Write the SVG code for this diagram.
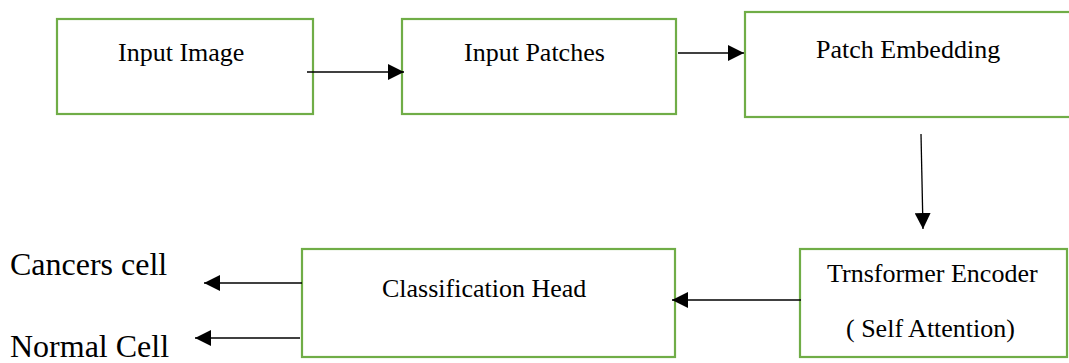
<svg xmlns="http://www.w3.org/2000/svg" width="1069" height="363" viewBox="0 0 1069 363">
  <style>
    .box { fill: #ffffff; stroke: #70AD47; stroke-width: 2.2; }
    .lbl { font-family: "Liberation Serif", "Times New Roman", serif; font-size: 26px; fill: #000000; }
    .out { font-family: "Liberation Serif", "Times New Roman", serif; font-size: 32px; fill: #000000; }
    .wire { stroke: #000000; stroke-width: 1.3; fill: none; marker-end: url(#head); }
  </style>
  <defs>
    <marker id="head" viewBox="0 0 16 16" refX="16" refY="8" markerWidth="16" markerHeight="16" markerUnits="userSpaceOnUse" orient="auto">
      <path d="M0,0 L16,8 L0,16 Z" fill="#000000"/>
    </marker>
  </defs>
  <rect width="1069" height="363" fill="#ffffff"/>

  <g id="input-image">
    <rect class="box" x="57" y="19" width="256" height="95"/>
    <text class="lbl" x="118" y="61">Input Image</text>
  </g>

  <g id="input-patches">
    <rect class="box" x="402" y="19" width="274" height="95"/>
    <text class="lbl" x="464" y="61">Input Patches</text>
  </g>

  <g id="patch-embedding">
    <rect class="box" x="745" y="12" width="340" height="105"/>
    <text class="lbl" x="816" y="58">Patch Embedding</text>
  </g>

  <g id="transformer-encoder">
    <rect class="box" x="800" y="249" width="267" height="108"/>
    <text class="lbl" x="827" y="282">Trnsformer Encoder</text>
    <text class="lbl" x="846" y="337">( Self Attention)</text>
  </g>

  <g id="classification-head">
    <rect class="box" x="302" y="249" width="373" height="108"/>
    <text class="lbl" x="382" y="297">Classification Head</text>
  </g>

  <g id="cancers-cell">
    <text class="out" x="10" y="275">Cancers cell</text>
  </g>

  <g id="normal-cell">
    <text class="out" x="10" y="357">Normal Cell</text>
  </g>

  <g id="connectors">
    <line class="wire" x1="307" y1="72" x2="404" y2="72"/>
    <line class="wire" x1="678" y1="53" x2="744" y2="53"/>
    <line class="wire" x1="921" y1="134" x2="923" y2="229"/>
    <line class="wire" x1="801" y1="300" x2="672" y2="300"/>
    <line class="wire" x1="302" y1="283" x2="204" y2="283"/>
    <line class="wire" x1="300" y1="338" x2="195" y2="338"/>
  </g>
</svg>
